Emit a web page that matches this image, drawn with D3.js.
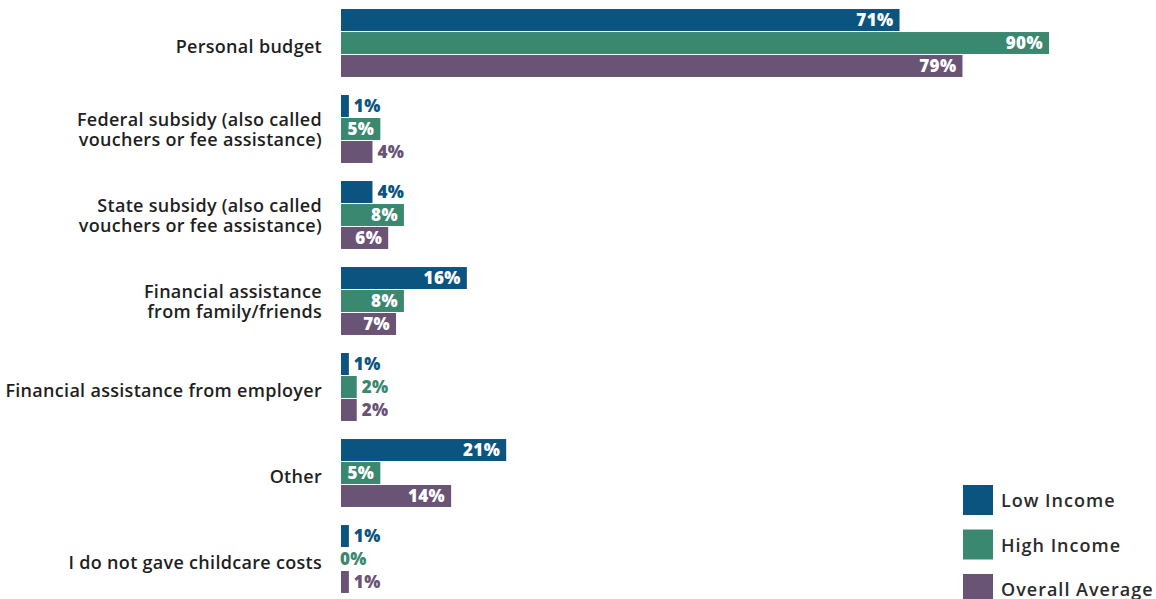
<!DOCTYPE html>
<html>
<head>
<meta charset="utf-8">
<script src="https://cdn.jsdelivr.net/npm/d3@7"></script>
<style>
  html, body { margin: 0; padding: 0; background: #fff; }
  svg { display: block; }
</style>
</head>
<body>
<svg id="chart" width="1156" height="599"></svg>
<script>
const categories = [
  ["Personal budget"],
  ["Federal subsidy (also called", "vouchers or fee assistance)"],
  ["State subsidy (also called", "vouchers or fee assistance)"],
  ["Financial assistance", "from family/friends"],
  ["Financial assistance from employer"],
  ["Other"],
  ["I do not gave childcare costs"]
];
const seriesNames = ["Low Income", "High Income", "Overall Average"];
const lowIncome = [71, 1, 4, 16, 1, 21, 1];
const highIncome = [90, 5, 8, 8, 2, 5, 0];
const overallAverage = [79, 4, 6, 7, 2, 14, 1];
const colors = ["#0b5480", "#3b8870", "#6a5476"];

const seriesValues = [lowIncome, highIncome, overallAverage];
const catKeys = categories.map(c => c.join(" "));

const svg = d3.select("#chart");
const x0 = 341;
const x = d3.scaleLinear().domain([0, 90]).range([x0, 1049]);
const y = d3.scaleBand().domain(catKeys).range([0, 602]).paddingInner(0.21).paddingOuter(0.105);
const yInner = d3.scaleBand().domain(seriesNames).range([0, y.bandwidth()]).paddingInner(0.045);

const labelFont = "'Open Sans', 'DejaVu Sans', sans-serif";

// category labels
const catG = svg.append("g");
categories.forEach((lines, i) => {
  const cy = y(catKeys[i]) + y.bandwidth() / 2;
  const lh = 20.5;
  const startY = lines.length === 1 ? cy + 4 : cy - lh / 2 + 0.5;
  const t = catG.append("text")
    .attr("x", 322)
    .attr("text-anchor", "end")
    .attr("font-family", labelFont)
    .attr("font-weight", 600)
    .attr("font-size", 18)
    .attr("letter-spacing", "0.3px")
    .attr("fill", "#1f1f1f");
  lines.forEach((ln, j) => {
    t.append("tspan").attr("x", 322).attr("y", startY + j * lh).attr("dy", "0.36em").text(ln);
  });
});

// bars
const barG = svg.append("g");
seriesNames.forEach((s, si) => {
  const vals = seriesValues[si];
  catKeys.forEach((k, ci) => {
    const v = vals[ci];
    const by = y(k) + yInner(s);
    const bh = yInner.bandwidth();
    const w = x(v) - x(0);
    if (v > 0) {
      barG.append("rect")
        .attr("x", x(0)).attr("y", by)
        .attr("width", w).attr("height", bh)
        .attr("fill", colors[si]);
    }
    const inside = w > 36;
    barG.append("text")
      .attr("x", inside ? x(v) - 6 : x(v) + (v > 0 ? 5 : -1))
      .attr("y", by + bh / 2)
      .attr("dy", "0.36em")
      .attr("text-anchor", inside ? "end" : "start")
      .attr("font-family", labelFont)
      .attr("font-weight", 800)
      .attr("font-size", 17)
      .attr("letter-spacing", "0.4px")
      .attr("fill", inside ? "#ffffff" : colors[si])
      .text(v + "%");
  });
});

// legend
const legend = svg.append("g");
seriesNames.forEach((s, i) => {
  const ly = 485 + i * 44.5;
  legend.append("rect").attr("x", 963).attr("y", ly).attr("width", 30).attr("height", 30).attr("fill", colors[i]);
  legend.append("text")
    .attr("x", 1001).attr("y", ly + 16).attr("dy", "0.36em")
    .attr("font-family", labelFont)
    .attr("font-weight", 600)
    .attr("font-size", 18)
    .attr("letter-spacing", "1px")
    .attr("fill", "#2b2b2b")
    .text(s);
});
</script>
</body>
</html>
